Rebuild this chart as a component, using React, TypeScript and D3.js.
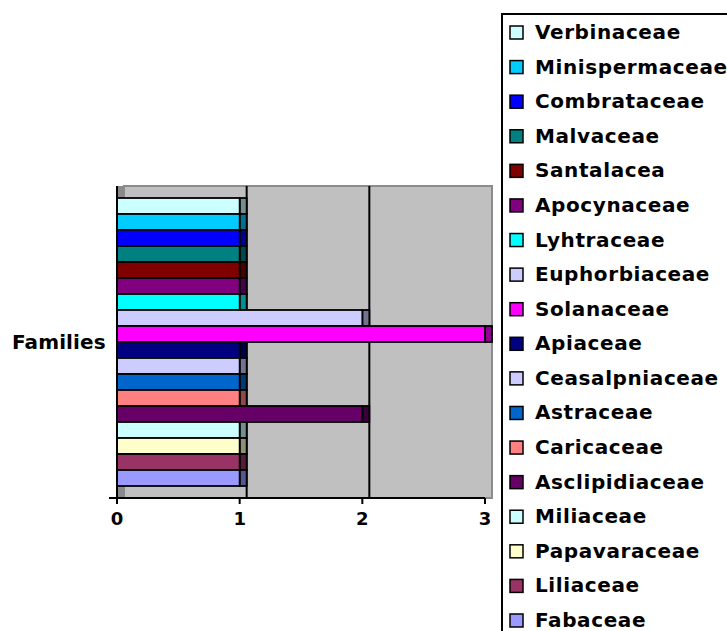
import { useEffect, useRef } from "react";
import * as d3 from "d3";

// families listed top to bottom as in the legend
const families = [
  "Verbinaceae", "Minispermaceae", "Combrataceae", "Malvaceae", "Santalacea",
  "Apocynaceae", "Lyhtraceae", "Euphorbiaceae", "Solanaceae", "Apiaceae",
  "Ceasalpniaceae", "Astraceae", "Caricaceae", "Asclipidiaceae", "Miliaceae",
  "Papavaraceae", "Liliaceae", "Fabaceae",
];
const counts = [1, 1, 1, 1, 1, 1, 1, 2, 3, 1, 1, 1, 1, 2, 1, 1, 1, 1];
const colors = [
  "#CCFFFF", "#00CCFF", "#0000FF", "#008080", "#800000",
  "#800080", "#00FFFF", "#CCCCFF", "#FF00FF", "#000080",
  "#CCCCFF", "#0066CC", "#FF8080", "#660066", "#CCFFFF",
  "#FFFFCC", "#993366", "#9999FF",
];
const xTicks = [0, 1, 2, 3];
const categoryLabel = "Families";

const App = () => {
  const ref = useRef<SVGSVGElement>(null);

  const drawChart = () => {
    const svg = d3.select(ref.current);
    svg.selectAll("*").remove();

    const depth = 7;
    const top = 186;
    const bottom = 498;
    const x = d3.scaleLinear().domain([0, 3]).range([117, 485]);
    const y = d3.scaleBand().domain(families).range([198, 486]).padding(0);

    // back wall
    svg.append("rect")
      .attr("x", x(0) + depth).attr("y", top)
      .attr("width", x(3) - x(0)).attr("height", bottom - top)
      .attr("fill", "#c0c0c0")
      .attr("stroke", "#8c8c8c").attr("stroke-width", 2);
    // side wall
    svg.append("rect")
      .attr("x", x(0)).attr("y", top)
      .attr("width", depth + 1).attr("height", bottom - top)
      .attr("fill", "#8a8a8a");

    // gridlines on the back wall
    svg.selectAll(".grid")
      .data(xTicks.filter(d => d > 0 && d < 3))
      .enter().append("line")
      .attr("x1", d => x(d) + depth).attr("x2", d => x(d) + depth)
      .attr("y1", top).attr("y2", bottom)
      .attr("stroke", "#000").attr("stroke-width", 2);

    const bars = svg.selectAll(".bar")
      .data(families)
      .enter().append("g");

    // side face
    bars.append("rect")
      .attr("x", (d, i) => x(counts[i]))
      .attr("y", d => y(d)!)
      .attr("width", depth)
      .attr("height", y.bandwidth())
      .attr("fill", (d, i) => d3.color(colors[i])!.darker(1.6).toString())
      .attr("stroke", "#000").attr("stroke-width", 1.8);
    // front face
    bars.append("rect")
      .attr("x", x(0))
      .attr("y", d => y(d)!)
      .attr("width", (d, i) => x(counts[i]) - x(0))
      .attr("height", y.bandwidth())
      .attr("fill", (d, i) => colors[i])
      .attr("stroke", "#000").attr("stroke-width", 1.8);

    // axes
    svg.append("line")
      .attr("x1", x(0)).attr("x2", x(0))
      .attr("y1", top).attr("y2", bottom + 6)
      .attr("stroke", "#000").attr("stroke-width", 2);
    svg.append("line")
      .attr("x1", x(0) - 8).attr("x2", x(3))
      .attr("y1", bottom).attr("y2", bottom)
      .attr("stroke", "#000").attr("stroke-width", 2);

    svg.selectAll(".tick")
      .data(xTicks)
      .enter().append("line")
      .attr("x1", d => x(d)).attr("x2", d => x(d))
      .attr("y1", bottom).attr("y2", bottom + 6)
      .attr("stroke", "#000").attr("stroke-width", 2);

    svg.selectAll(".tickLabel")
      .data(xTicks)
      .enter().append("text")
      .attr("x", d => x(d)).attr("y", 525)
      .attr("text-anchor", "middle")
      .attr("font-family", "DejaVu Sans")
      .attr("font-weight", "bold")
      .attr("font-size", 18)
      .text(d => d);

    svg.append("text")
      .attr("x", 12).attr("y", 349)
      .attr("font-family", "DejaVu Sans")
      .attr("font-weight", "bold")
      .attr("font-size", 20)
      .attr("letter-spacing", 0.1)
      .text(categoryLabel);

    // legend
    svg.append("rect")
      .attr("x", 502).attr("y", 14)
      .attr("width", 260).attr("height", 640)
      .attr("fill", "#fff")
      .attr("stroke", "#000").attr("stroke-width", 2);

    const ly = d3.scalePoint().domain(families).range([32, 620]);
    const items = svg.selectAll(".legend")
      .data(families)
      .enter().append("g")
      .attr("transform", d => `translate(0,${ly(d)})`);
    items.append("rect")
      .attr("x", 510).attr("y", -6)
      .attr("width", 13).attr("height", 13)
      .attr("fill", (d, i) => colors[i])
      .attr("stroke", "#000").attr("stroke-width", 1.5);
    items.append("text")
      .attr("x", 535).attr("y", 7)
      .attr("font-family", "DejaVu Sans")
      .attr("font-weight", "bold")
      .attr("font-size", 20)
      .attr("letter-spacing", 0.6)
      .text(d => d);
  };

  useEffect(() => {
    drawChart();
  }, []);

  return (
    <svg
      ref={ref}
      width={727}
      height={631}
      style={{ position: "absolute", left: 0, top: 0, background: "#fff" }}
    />
  );
};

export default App;
